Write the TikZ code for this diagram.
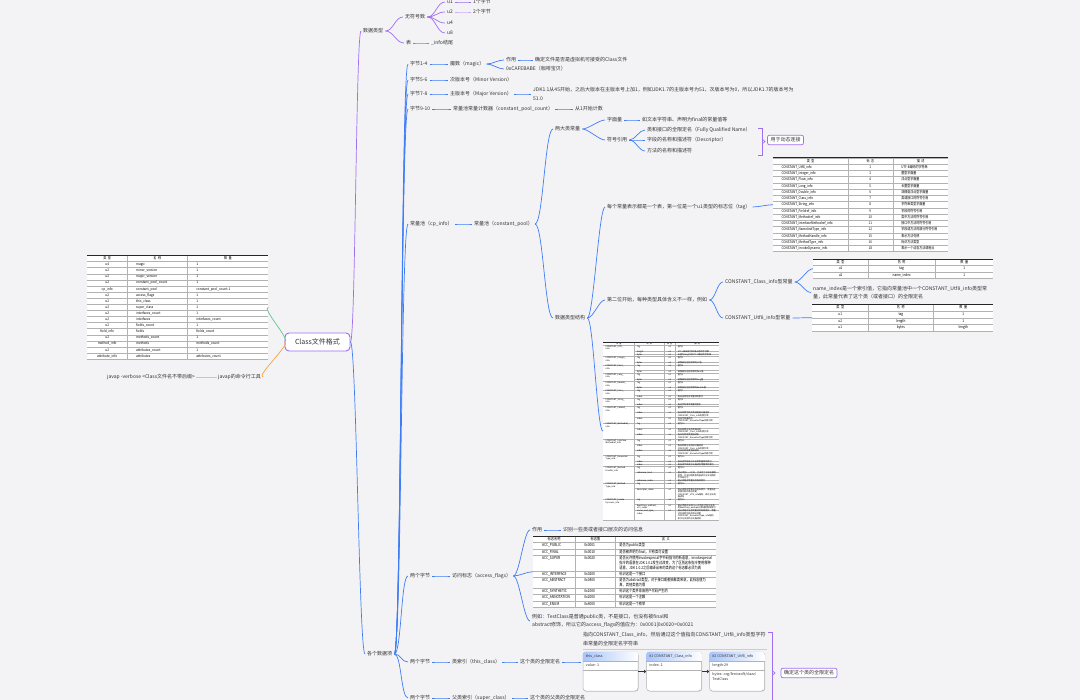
\documentclass[tikz,border=0pt]{standalone}
\usepackage{fontspec}
\setmainfont{Noto Sans CJK SC}
\usepackage{graphicx}
\usepackage{colortbl}
\usetikzlibrary{arrows.meta,calc,shadows}
\XeTeXlinebreaklocale "zh"
\XeTeXlinebreakskip=0pt plus 1pt

\definecolor{bg}{HTML}{F3F3F6}
\definecolor{purp}{HTML}{A06EF0}
\definecolor{blu}{HTML}{3E7DF5}
\definecolor{grn}{HTML}{5CC98A}
\definecolor{org}{HTML}{F5A33C}
\definecolor{txt}{HTML}{333333}

\newcommand\tfont{\fontsize{5}{6}\selectfont}
\newcolumntype{L}[1]{>{\raggedright\arraybackslash}p{#1}}
\newcolumntype{I}[1]{>{\raggedright\arraybackslash\hspace*{8pt}}p{#1}}
\newcolumntype{C}[1]{>{\centering\arraybackslash}p{#1}}
\arrayrulecolor{gray!60}

\tikzset{
  t/.style={font=\fontsize{5}{6}\selectfont, text=txt, inner xsep=2pt, inner ysep=1pt, anchor=west},
  tt/.style={t, align=left, font=\fontsize{5}{8.5}\selectfont},
  mm/.style={out=0, in=180, distance=#1},
  mm/.default=6pt,
  pl/.style={draw=purp, line width=0.7pt},
  bl/.style={draw=blu, line width=0.7pt},
  gl/.style={draw=grn, line width=0.7pt},
  ol/.style={draw=org, line width=0.7pt},
  tab/.style={inner sep=0pt, anchor=north west, fill=white},
  toprule/.style={draw=gray!30!black, line width=0.8pt},
  root/.style={draw=purp, line width=0.9pt, rounded corners=4pt, fill=white,
    minimum width=65pt, minimum height=18pt, font=\fontsize{7}{8}\selectfont, text=txt},
  sumbox/.style={draw=purp, line width=0.7pt, rounded corners=2pt, fill=white, text=txt,
    font=\fontsize{5}{6}\selectfont, inner xsep=3pt, inner ysep=2.5pt},
  card/.style={draw=gray!60, fill=white, rounded corners=3pt, line width=0.5pt,
    drop shadow={shadow xshift=0.6pt, shadow yshift=-0.6pt, opacity=0.35},
    minimum width=55pt, minimum height=39pt, inner sep=0pt},
  ct/.style={font=\fontsize{3.6}{4.4}\selectfont, text=txt, anchor=west, inner sep=0pt, align=left},
  cardarrow/.style={-{Triangle[length=2.2pt,width=3.4pt]}, line width=1.1pt, black!80},
}

\begin{document}
\begin{tikzpicture}[x=1pt,y=-1pt]
\fill[bg] (0,0) rectangle (1080,700);
\useasboundingbox (0,0) rectangle (1080,700);

% root
\node[root] (root) at (317.5,342) {Class文件格式};

% data types
\node[t] (dtype) at (361,31) {数据类型};
\node[t] (unsg) at (403,17) {无符号数};
\node[t] (tbl) at (404,43) {表};
\node[t] (ua) at (445,2) {u1};
\node[t] (ub) at (445,12) {u2};
\node[t] (uc) at (445,23) {u4};
\node[t] (ud) at (445,33) {u8};
\node[t] (ua1) at (471,2) {1个字节};
\node[t] (ub1) at (471,12) {2个字节};
\node[t] (infoend) at (429,43) {\_info结尾};
\draw[pl] (root.east) to[mm=5pt] (dtype.west);
\draw[pl] (dtype.east) to[mm=8pt] (unsg.west);
\draw[pl] (dtype.east) to[mm=8pt] (tbl.west);
\foreach \n in {ua,ub,uc,ud}
  \draw[pl] (unsg.east) to[mm=8pt] (\n.west);
\draw[pl] (ua.east) to[mm] (ua1.west);
\draw[pl, draw=purp!60] (ub.east) to[mm] (ub1.west);
\draw[pl] (tbl.east) to[mm] (infoend.west);

% items
\node[t] (items) at (365,654) {各个数据项};
\draw[bl] (root.east) to[mm=6pt] (items.west);

\node[t] (b1) at (408,64) {字节1-4};
\node[t] (magic) at (448,64) {魔数（magic）};
\node[t] (use1) at (504,60) {作用};
\node[t] (use1t) at (533,60) {确定文件是否是虚拟机可接受的Class文件};
\node[t] (cafe) at (504,69) {0xCAFEBABE（咖啡宝贝）};
\node[t] (b2) at (408,80) {字节5-6};
\node[t] (minor) at (448,80) {次版本号（Minor Version）};
\node[t] (b3) at (408,94) {字节7-8};
\node[t] (major) at (448,94) {主版本号（Major Version）};
\node[tt] (jdk) at (531,94) {JDK1.1从45开始，之后大版本在主版本号上加1，例如JDK1.7的主版本号为51，次版本号为0，所以JDK1.7的版本号为\\51.0};
\node[t] (b4) at (408,109) {字节9-10};
\node[t] (cpc) at (451,109) {常量池常量计数器（constant\_pool\_count）};
\node[t] (from1) at (573,109) {从1开始计数};
\node[t] (cpi) at (408,224) {常量池（cp\_info）};
\node[t] (cpool) at (472,224) {常量池（constant\_pool）};

\foreach \n in {b1,b2,b3,b4,cpi}
  \draw[bl] (items.east) to[mm=7pt] (\n.west);
\draw[bl] (b1.east) to[mm] (magic.west);
\draw[bl] (magic.east) to[mm] (use1.west);
\draw[bl] (magic.east) to[mm] (cafe.west);
\draw[bl] (use1.east) to[mm] (use1t.west);
\draw[bl] (b2.east) to[mm] (minor.west);
\draw[bl] (b3.east) to[mm] (major.west);
\draw[bl] (major.east) to[mm] (jdk.west);
\draw[bl] (b4.east) to[mm] (cpc.west);
\draw[bl] (cpc.east) to[mm] (from1.west);
\draw[bl] (cpi.east) to[mm] (cpool.west);

% two kinds of constants
\node[t] (two) at (553,129) {两大类常量};
\node[t] (lit) at (605,120) {字面量};
\node[t] (litt) at (640,120) {如文本字符串、声明为final的常量值等};
\node[t] (sym) at (605,140) {符号引用};
\node[t] (s1) at (645,130) {类和接口的全限定名（Fully Qualified Name）};
\node[t] (s2) at (645,140) {字段的名称和描述符（Descriptor）};
\node[t] (s3) at (645,151) {方法的名称和描述符};
\draw[bl] (cpool.east) to[mm=8pt] (two.west);
\draw[bl] (two.east) to[mm] (lit.west);
\draw[bl] (two.east) to[mm] (sym.west);
\draw[bl] (lit.east) to[mm] (litt.west);
\foreach \n in {s1,s2,s3}
  \draw[bl] (sym.east) to[mm] (\n.west);
\coordinate (sb1t) at (762,128);
\coordinate (sb1b) at (762,155);
\draw[pl] ([xshift=-4pt]sb1t) -- (sb1t) -- (sb1b) -- ([xshift=-4pt]sb1b);
\draw[pl] (762,139) -- (765,141.5) -- (762,144);
\node[sumbox] (sum1) at (785.5,140) {用于动态连接};

% structure of constants
\node[t] (dstr) at (553,318) {数据类型结构};
\node[t] (each) at (605,207) {每个常量表示都是一个表，第一位是一个u1类型的标志位（tag）};
\node[t] (second) at (605,300) {第二位开始，每种类型具体含义不一样，例如};
\node[t] (cls) at (723,282) {CONSTANT\_Class\_info型常量};
\node[t] (utf) at (723,318) {CONSTANT\_Utf8\_info型常量};
\node[tt] (note) at (811,292.5) {name\_index是一个索引值，它指向常量池中一个CONSTANT\_Utf8\_info类型常\\量，此常量代表了这个类（或者接口）的全限定名};
\draw[bl] (cpool.east) to[mm=8pt] (dstr.west);

\node[tab] (ttag) at (773,157.5) {\resizebox*{175pt}{94pt}{\tfont\renewcommand\arraystretch{1.35}%
\begin{tabular}{I{112pt}|C{62pt}|I{80pt}}
\hline
\multicolumn{1}{c|}{类\enspace 型} & 标\enspace 志 & \multicolumn{1}{c}{描\enspace 述}\\\hline
CONSTANT\_Utf8\_info & 1 & UTF-8编码的字符串\\\hline
CONSTANT\_Integer\_info & 3 & 整型字面量\\\hline
CONSTANT\_Float\_info & 4 & 浮点型字面量\\\hline
CONSTANT\_Long\_info & 5 & 长整型字面量\\\hline
CONSTANT\_Double\_info & 6 & 双精度浮点型字面量\\\hline
CONSTANT\_Class\_info & 7 & 类或接口的符号引用\\\hline
CONSTANT\_String\_info & 8 & 字符串类型字面量\\\hline
CONSTANT\_Fieldref\_info & 9 & 字段的符号引用\\\hline
CONSTANT\_Methodref\_info & 10 & 类中方法的符号引用\\\hline
CONSTANT\_InterfaceMethodref\_info & 11 & 接口中方法的符号引用\\\hline
CONSTANT\_NameAndType\_info & 12 & 字段或方法的部分符号引用\\\hline
CONSTANT\_MethodHandle\_info & 15 & 表示方法句柄\\\hline
CONSTANT\_MethodType\_info & 16 & 标识方法类型\\\hline
CONSTANT\_InvokeDynamic\_info & 18 & 表示一个动态方法调用点\\\hline
\end{tabular}}};
\draw[toprule] (ttag.north west) -- (ttag.north east);

\node[tab] (tcls) at (813,259) {\resizebox*{180pt}{19pt}{\tfont\renewcommand\arraystretch{1.3}%
\begin{tabular}{C{76pt}|C{95pt}|C{81pt}}
\hline
类\enspace 型 & 名\enspace 称 & 数\enspace 量\\\hline
u1 & tag & 1\\\hline
u2 & name\_index & 1\\\hline
\end{tabular}}};
\draw[toprule] (tcls.north west) -- (tcls.north east);

\node[tab] (tutf) at (812,304) {\resizebox*{181pt}{27pt}{\tfont\renewcommand\arraystretch{1.4}%
\begin{tabular}{C{78pt}|C{91pt}|C{84pt}}
\hline
类\enspace 型 & 名\enspace 称 & 数\enspace 量\\\hline
u1 & tag & 1\\\hline
u2 & length & 1\\\hline
u1 & bytes & length\\\hline
\end{tabular}}};
\draw[toprule] (tutf.north west) -- (tutf.north east);

\node[tab] (tbig) at (603,342) {\resizebox*{116pt}{178pt}{\tfont\renewcommand\arraystretch{1.1}%
\begin{tabular}{L{62pt}|L{58pt}|C{14pt}|L{92pt}}
\hline
\multicolumn{1}{c|}{常\enspace 量} & \multicolumn{1}{c|}{项\enspace 目} & 类\enspace 型 & \multicolumn{1}{c}{描\enspace 述}\\\hline
CONSTANT\_Utf8\_\newline info & tag & u1 & 值为1\\\cline{2-4}
 & length & u2 & UTF-8编码的字符串占用的字节数\\\cline{2-4}
 & bytes & u1 & 长度为length的UTF-8编码的字符串\\\hline
CONSTANT\_Integer\_\newline info & tag & u1 & 值为3\\\cline{2-4}
 & bytes & u4 & 按照高位在前存储的int值\\\hline
CONSTANT\_Float\_\newline info & tag & u1 & 值为4\\\cline{2-4}
 & bytes & u4 & 按照高位在前存储的float值\\\hline
CONSTANT\_Long\_\newline info & tag & u1 & 值为5\\\cline{2-4}
 & bytes & u8 & 按照高位在前存储的long值\\\hline
CONSTANT\_Double\_\newline info & tag & u1 & 值为6\\\cline{2-4}
 & bytes & u8 & 按照高位在前存储的double值\\\hline
CONSTANT\_Class\_\newline info & tag & u1 & 值为7\\\cline{2-4}
 & index & u2 & 指向全限定名常量项的索引\\\hline
CONSTANT\_String\_\newline info & tag & u1 & 值为8\\\cline{2-4}
 & index & u2 & 指向字符串字面量的索引\\\hline
CONSTANT\_Fieldref\_\newline info & tag & u1 & 值为9\\\cline{2-4}
 & index & u2 & 指向声明字段的类或者接口描述符CONSTANT\_Class\_info的索引项\\\cline{2-4}
 & index & u2 & 指向字段描述符CONSTANT\_NameAndType的索引项\\\hline
CONSTANT\_Methodref\_\newline info & tag & u1 & 值为10\\\cline{2-4}
 & index & u2 & 指向声明方法的类描述符CONSTANT\_Class\_info的索引项\\\cline{2-4}
 & index & u2 & 指向名称及类型描述符CONSTANT\_NameAndType的索引项\\\hline
CONSTANT\_Interface\newline Methodref\_info & tag & u1 & 值为11\\\cline{2-4}
 & index & u2 & 指向声明方法的接口描述符CONSTANT\_Class\_info的索引项\\\cline{2-4}
 & index & u2 & 指向名称及类型描述符CONSTANT\_NameAndType的索引项\\\hline
CONSTANT\_NameAnd\newline Type\_info & tag & u1 & 值为12\\\cline{2-4}
 & index & u2 & 指向该字段或方法名称常量项的索引\\\cline{2-4}
 & index & u2 & 指向该字段或方法描述符常量项的索引\\\hline
CONSTANT\_Method\newline Handle\_info & tag & u1 & 值为15\\\cline{2-4}
 & reference\_kind & u1 & 值必须在1～9之间，它决定了方法句柄的类型，方法句柄类型的值表示方法句柄的字节码行为\\\cline{2-4}
 & reference\_index & u2 & 值必须是对常量池的有效索引\\\hline
CONSTANT\_Method\newline Type\_info & tag & u1 & 值为16\\\cline{2-4}
 & descriptor\_index & u2 & 值必须是对常量池的有效索引，常量池在该索引处的项必须是CONSTANT\_Utf8\_info结构，表示方法的描述符\\\hline
CONSTANT\_Invoke\newline Dynamic\_info & tag & u1 & 值为18\\\cline{2-4}
 & bootstrap\_method\_\newline attr\_index & u2 & 值必须是对当前Class文件中引导方法表的bootstrap\_methods[]数组的有效索引\\\cline{2-4}
 & name\_and\_type\_\newline index & u2 & 值必须是对当前常量池的有效索引，常量池在该索引处的项必须是CONSTANT\_NameAndType\_info结构，表示方法名和方法描述符\\\hline
\end{tabular}}};
\draw[toprule] (tbig.north west) -- (tbig.north east);

\draw[bl] (dstr.east) to[mm] (each.west);
\draw[bl] (dstr.east) to[mm] (second.west);
\draw[bl] (dstr.east) to[mm] (tbig.west);
\draw[bl] (each.east) to[mm] (ttag.west);
\draw[bl] (second.east) to[mm] (cls.west);
\draw[bl] (second.east) to[mm] (utf.west);
\draw[bl] (cls.east) to[mm] (tcls.west);
\draw[bl] (cls.east) to[mm] (note.west);
\draw[bl] (utf.east) to[mm] (tutf.west);

% access flags
\node[t] (b5) at (408,576) {两个字节};
\node[t] (acc) at (450,576) {访问标志（access\_flags）};
\node[t] (use2) at (530,530) {作用};
\node[t] (use2t) at (561,530) {识别一些类或者接口层次的访问信息};
\node[tab] (tacc) at (533,536) {\resizebox*{183pt}{71pt}{\tfont\renewcommand\arraystretch{1.2}%
\begin{tabular}{I{53pt}|I{50pt}|L{144pt}}
\hline
\multicolumn{1}{c|}{标志名称} & \multicolumn{1}{c|}{标志值} & \multicolumn{1}{c}{含\enspace 义}\\\hline
ACC\_PUBLIC & 0x0001 & 是否为public类型\\\hline
ACC\_FINAL & 0x0010 & 是否被声明为final，只有类可设置\\\hline
ACC\_SUPER & 0x0020 & 是否允许使用invokespecial字节码指令的新语意，invokespecial指令的语意在JDK 1.0.2发生过改变，为了区别这条指令使用哪种语意，JDK 1.0.2之后编译出来的类的这个标志都必须为真\\\hline
ACC\_INTERFACE & 0x0200 & 标识这是一个接口\\\hline
ACC\_ABSTRACT & 0x0400 & 是否为abstract类型，对于接口或者抽象类来说，此标志值为真，其他类值为假\\\hline
ACC\_SYNTHETIC & 0x1000 & 标识这个类并非由用户代码产生的\\\hline
ACC\_ANNOTATION & 0x2000 & 标识这是一个注解\\\hline
ACC\_ENUM & 0x4000 & 标识这是一个枚举\\\hline
\end{tabular}}};
\draw[toprule] (tacc.north west) -- (tacc.north east);
\node[tt] (exmp) at (530,621) {例如：TestClass是普通public类，不是接口，也没有被final和\\abstract修饰，所以它的access\_flags的值应为：0x0001|0x0020=0x0021};
\draw[bl] (items.east) to[mm=7pt] (b5.west);
\draw[bl] (b5.east) to[mm] (acc.west);
\draw[bl] (acc.east) to[mm] (use2.west);
\draw[bl] (acc.east) to[mm] (tacc.west);
\draw[bl] (acc.east) to[mm] (exmp.west);
\draw[bl] (use2.east) to[mm] (use2t.west);

% this_class
\node[t] (b6) at (408,662) {两个字节};
\node[t] (thiscls) at (450,662) {类索引（this\_class）};
\node[t] (fq) at (518,662) {这个类的全限定名};
\node[tt] (ptr) at (581,639) {指向CONSTANT\_Class\_info，然后通过这个值指向CONSTANT\_Utf8\_info类型字符\\串常量的全限定名字符串};
\coordinate (ptrin) at (581,662);
\draw[gray!40, line width=0.4pt] (583,649) -- (767,649);
\draw[bl] (items.east) to[mm=7pt] (b6.west);
\draw[bl] (b6.east) to[mm] (thiscls.west);
\draw[bl] (thiscls.east) to[mm] (fq.west);
\draw[bl] (fq.east) to[mm] (ptrin);

\node[card] (c1) at (610.5,671.5) {};
\node[card] (c2) at (674,671.5) {};
\node[card] (c3) at (737,671.5) {};
\foreach \c in {c1,c2,c3} {
  \begin{scope}
    \clip[rounded corners=3pt] (\c.north west) rectangle (\c.south east);
    \shade[left color=blu!45, right color=white] (\c.north west) rectangle ([yshift=-9pt]\c.north east);
  \end{scope}
  \draw[gray!60, line width=0.4pt] ([yshift=-9pt]\c.north west) -- ([yshift=-9pt]\c.north east);
  \draw[gray!60, line width=0.4pt] ([yshift=-18pt]\c.north west) -- ([yshift=-18pt]\c.north east);
}
\node[ct] at ([xshift=3pt,yshift=-4.5pt]c1.north west) {this\_class};
\node[ct] at ([xshift=3pt,yshift=-13.5pt]c1.north west) {value: 1};
\node[ct] at ([xshift=3pt,yshift=-4.5pt]c2.north west) {\#1 CONSTANT\_Class\_info};
\node[ct] at ([xshift=3pt,yshift=-13.5pt]c2.north west) {index: 2};
\node[ct] at ([xshift=3pt,yshift=-4.5pt]c3.north west) {\#2 CONSTANT\_Utf8\_info};
\node[ct] at ([xshift=3pt,yshift=-13.5pt]c3.north west) {length:29};
\node[ct] at ([xshift=3pt,yshift=-25pt]c3.north west) {bytes: org/fenixsoft/clazz/\\TestClass};
\draw[cardarrow] (c1.east) -- (c2.west);
\draw[cardarrow] (c2.east) -- (c3.west);

\coordinate (sb2t) at (772,632);
\coordinate (sb2b) at (772,712);
\draw[pl] ([xshift=-4pt]sb2t) -- (sb2t) -- (sb2b);
\draw[pl] (772,670.5) -- (775,673) -- (772,675.5);
\node[sumbox] (sum2) at (809,673) {确定这个类的全限定名};

% super_class
\node[t] (b7) at (408,698) {两个字节};
\node[t] (supercls) at (450,698) {父类索引（super\_class）};
\node[t] (sfq) at (528,698) {这个类的父类的全限定名};
\draw[bl] (items.east) to[mm=7pt] (b7.west);
\draw[bl] (b7.east) to[mm] (supercls.west);
\draw[bl] (supercls.east) to[mm] (sfq.west);

% class file table
\node[tab] (ctab) at (87,255) {\resizebox*{181pt}{104pt}{\tfont\renewcommand\arraystretch{1.4}%
\begin{tabular}{C{52pt}|I{84pt}|I{117pt}}
\hline
类\enspace 型 & \multicolumn{1}{c|}{名\enspace 称} & \multicolumn{1}{c}{数\enspace 量}\\\hline
u4 & magic & 1\\\hline
u2 & minor\_version & 1\\\hline
u2 & major\_version & 1\\\hline
u2 & constant\_pool\_count & 1\\\hline
cp\_info & constant\_pool & constant\_pool\_count-1\\\hline
u2 & access\_flags & 1\\\hline
u2 & this\_class & 1\\\hline
u2 & super\_class & 1\\\hline
u2 & interfaces\_count & 1\\\hline
u2 & interfaces & interfaces\_count\\\hline
u2 & fields\_count & 1\\\hline
field\_info & fields & fields\_count\\\hline
u2 & methods\_count & 1\\\hline
method\_info & methods & methods\_count\\\hline
u2 & attributes\_count & 1\\\hline
attribute\_info & attributes & attributes\_count\\\hline
\end{tabular}}};
\draw[toprule] (ctab.north west) -- (ctab.north east);
\draw[gl] (root.west) to[mm=8pt] (ctab.east);

% javap
\node[t] (jcmd) at (216,377) {javap的命令行工具};
\node[t] (jv) at (105,377) {javap -verbose <Class文件名不带后缀>};
\draw[ol] (root.west) to[mm=8pt] (jcmd.east);
\draw[ol] (jcmd.west) to[mm] (jv.east);
\end{tikzpicture}
\end{document}
